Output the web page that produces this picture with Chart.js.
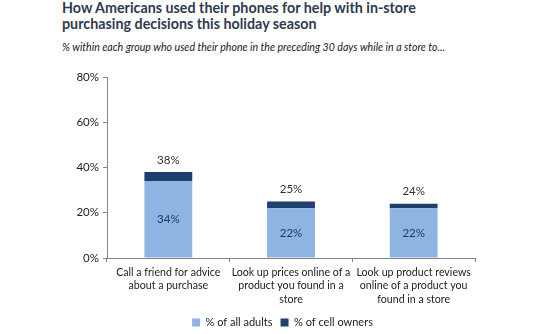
<!DOCTYPE html>
<html>
<head>
<meta charset="utf-8">
<script src="https://cdn.jsdelivr.net/npm/chart.js@4"></script>
<style>
  html, body { margin: 0; padding: 0; background: #fff; }
  #wrap { position: relative; width: 540px; height: 334px; overflow: hidden; }
  #titulo { position: absolute; left: 62px; top: 0px; width: 400px; font-family: Lato, sans-serif; font-weight: bold; font-size: 14.3px; line-height: 15.5px; color: #2e3b4e; }
  #subtitulo { position: absolute; left: 62px; top: 41px; font-family: Lato, sans-serif; font-style: italic; font-size: 10.6px; color: #222; }
  #grafico { position: absolute; left: 0; top: 0; }
</style>
</head>
<body>
<div id="wrap">
  <div id="titulo">How Americans used their phones for help with in-store purchasing decisions this holiday season</div>
  <div id="subtitulo">% within each group who used their phone in the preceding 30 days while in a store to...</div>
  <canvas id="grafico" width="540" height="334"></canvas>
</div>
<script>
var categorias = [
    ['Call a friend for advice', 'about a purchase'],
    ['Look up prices online of a', 'product you found in a', 'store'],
    ['Look up product reviews', 'online of a product you', 'found in a store']
];
var adultos = [34, 22, 22];          // % of all adults
var duenosCelular = [38, 25, 24];    // % of cell owners (total de la barra)
var ticksY = [0, 20, 40, 60, 80];

// la parte oscura es la diferencia entre dueños de celular y todos los adultos
var extra = duenosCelular.map((v, i) => v - adultos[i]);

var etiquetasPlugin = {
    id: 'etiquetas',
    afterLayout: function (chart) {
        // la leyenda va centrada bajo el área del gráfico, no bajo todo el canvas
        var corrimiento = 45;
        chart.legend.left += corrimiento;
        chart.legend.right += corrimiento;
    },
    afterDatasetsDraw: function (chart) {
        var ctx = chart.ctx;
        ctx.save();
        ctx.font = '11.5px Lato, sans-serif';
        ctx.textAlign = 'center';
        ctx.textBaseline = 'middle';
        var base = chart.getDatasetMeta(0).data;
        var tope = chart.getDatasetMeta(1).data;
        for (var i = 0; i < base.length; i++) {
            var b = base[i];
            ctx.fillStyle = '#1f3864';
            ctx.fillText(adultos[i] + '%', b.x, (b.y + b.base) / 2);
            ctx.fillStyle = '#333333';
            ctx.fillText(duenosCelular[i] + '%', tope[i].x, tope[i].y - 12);
        }
        ctx.restore();
    }
};

var ctx = document.getElementById('grafico').getContext('2d');
var chart = new Chart(ctx, {
    type: 'bar',
    data: {
        labels: categorias,
        datasets: [{
                label: '% of all adults',
                data: adultos,
                backgroundColor: '#8eb4e3'
            }, {
                label: '% of cell owners',
                data: extra,
                backgroundColor: '#1f3f6e'
            }]
    },
    options: {
        responsive: false,
        animation: false,
        layout: { padding: { left: 0, right: 65, top: 77, bottom: -4 } },
        datasets: { bar: { categoryPercentage: 1, barPercentage: 0.39 } },
        scales: {
            x: {
                stacked: true,
                afterFit: function (scale) { scale.height = 51; },
                border: { color: '#868686' },
                grid: { drawOnChartArea: false, color: '#868686', tickLength: 4 },
                ticks: { color: '#222', font: { family: 'Lato', size: 10.6, lineHeight: 1.25 }, maxRotation: 0, autoSkip: false, padding: 4 }
            },
            y: {
                stacked: true,
                min: 0,
                max: 80,
                afterBuildTicks: function (scale) {
                    scale.ticks = ticksY.map(v => ({ value: v }));
                },
                afterFit: function (scale) { scale.width = 107; },
                border: { color: '#868686' },
                grid: { drawOnChartArea: false, color: '#868686', tickLength: 4 },
                ticks: { color: '#222', font: { family: 'Lato', size: 11.5 }, padding: 4,
                    callback: function (v) { return v + '%'; } }
            }
        },
        plugins: {
            legend: {
                position: 'bottom',
                labels: { boxWidth: 8, boxHeight: 8, color: '#222', font: { family: 'Lato', size: 11 }, padding: 8 }
            },
            tooltip: { enabled: false }
        }
    },
    plugins: [etiquetasPlugin]
});
</script>
</body>
</html>
